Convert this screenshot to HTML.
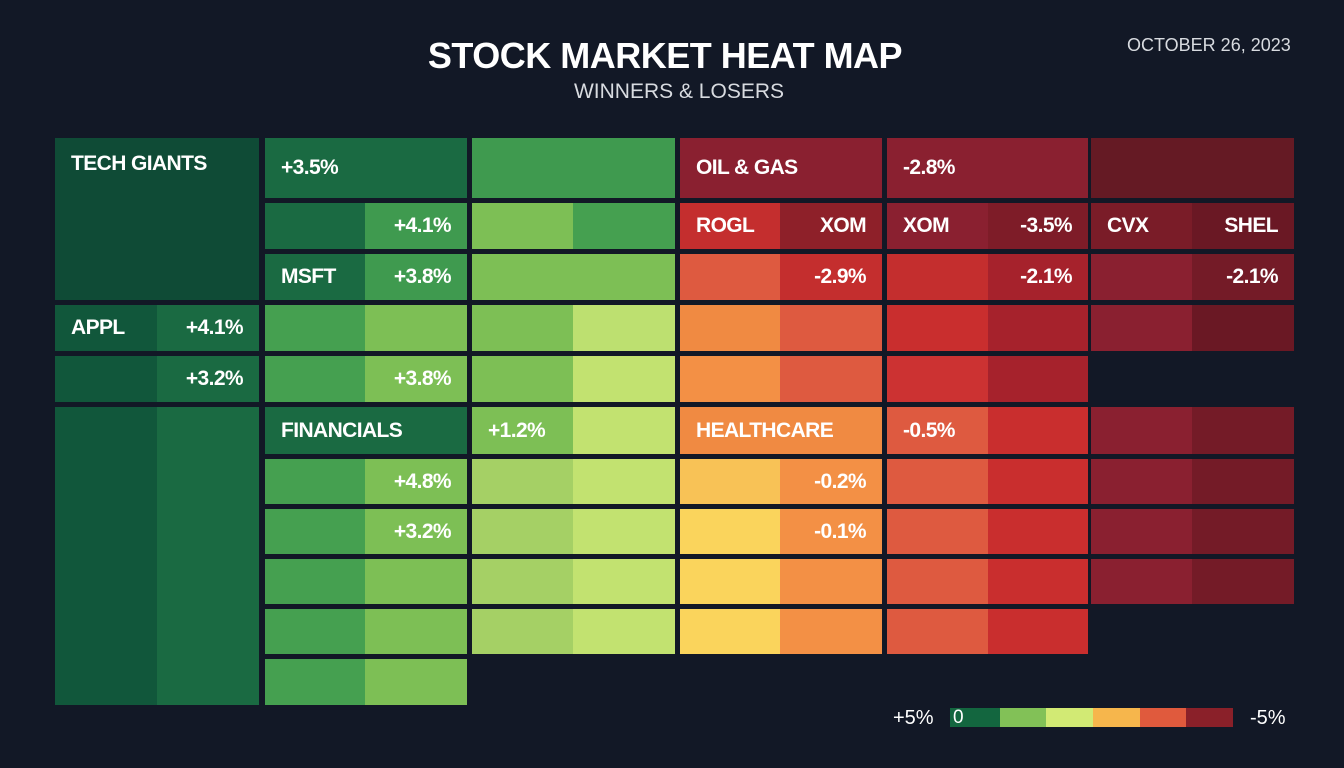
<!DOCTYPE html>
<html><head><meta charset="utf-8"><style>
body{margin:0;width:1344px;height:768px;background:#121826;position:relative;overflow:hidden;font-family:"Liberation Sans Narrow","Liberation Sans",sans-serif;color:#fff}
.c{position:absolute;box-sizing:border-box;font-size:21px;font-weight:bold;display:flex;align-items:center;padding:0 16px;letter-spacing:-0.6px}
.r{justify-content:flex-end}
.t{position:absolute;white-space:nowrap}
</style></head><body>
<div class="t" style="left:0;width:1330px;text-align:center;top:35px;font-size:36px;font-weight:bold;letter-spacing:-0.5px;font-family:'Liberation Sans',sans-serif">STOCK MARKET HEAT MAP</div>
<div class="t" style="left:0;width:1358px;text-align:center;top:80px;font-size:21px;color:#d8dbe0;font-family:'Liberation Sans',sans-serif">WINNERS &amp; LOSERS</div>
<div class="t" style="left:1127px;top:35px;font-size:18px;color:#d8dbe0;font-family:'Liberation Sans',sans-serif">OCTOBER 26, 2023</div>

<!-- group 0 -->
<div class="c" style="left:55px;top:138px;width:204px;height:162px;background:#0f4b36;align-items:flex-start;padding-top:14px">TECH GIANTS</div>
<div class="c" style="left:55px;top:305px;width:102px;height:46px;background:#11573b">APPL</div>
<div class="c r" style="left:157px;top:305px;width:102px;height:46px;background:#1a6a42">+4.1%</div>
<div class="c" style="left:55px;top:356px;width:102px;height:46px;background:#11573b"></div>
<div class="c r" style="left:157px;top:356px;width:102px;height:46px;background:#1a6a42">+3.2%</div>
<div class="c" style="left:55px;top:407px;width:102px;height:298px;background:#11573b"></div>
<div class="c" style="left:157px;top:407px;width:102px;height:298px;background:#1a6a42"></div>

<!-- group 1 -->
<div class="c" style="left:265px;top:138px;width:202px;height:60px;background:#1a6a42">+3.5%</div>
<div class="c" style="left:265px;top:203px;width:100px;height:46px;background:#1a6a42"></div>
<div class="c r" style="left:365px;top:203px;width:102px;height:46px;background:#3f9a4f">+4.1%</div>
<div class="c" style="left:265px;top:254px;width:100px;height:46px;background:#1a6a42">MSFT</div>
<div class="c r" style="left:365px;top:254px;width:102px;height:46px;background:#3f9a4f">+3.8%</div>
<div class="c" style="left:265px;top:305px;width:100px;height:46px;background:#45a050"></div>
<div class="c" style="left:365px;top:305px;width:102px;height:46px;background:#7dbf55"></div>
<div class="c" style="left:265px;top:356px;width:100px;height:46px;background:#45a050"></div>
<div class="c r" style="left:365px;top:356px;width:102px;height:46px;background:#7dbf55">+3.8%</div>
<div class="c" style="left:265px;top:407px;width:202px;height:47px;background:#1a6a42">FINANCIALS</div>
<div class="c" style="left:265px;top:459px;width:100px;height:45px;background:#45a050"></div>
<div class="c r" style="left:365px;top:459px;width:102px;height:45px;background:#7dbf55">+4.8%</div>
<div class="c" style="left:265px;top:509px;width:100px;height:45px;background:#45a050"></div>
<div class="c r" style="left:365px;top:509px;width:102px;height:45px;background:#7dbf55">+3.2%</div>
<div class="c" style="left:265px;top:559px;width:100px;height:45px;background:#45a050"></div>
<div class="c" style="left:365px;top:559px;width:102px;height:45px;background:#7dbf55"></div>
<div class="c" style="left:265px;top:609px;width:100px;height:45px;background:#45a050"></div>
<div class="c" style="left:365px;top:609px;width:102px;height:45px;background:#7dbf55"></div>
<div class="c" style="left:265px;top:659px;width:100px;height:46px;background:#45a050"></div>
<div class="c" style="left:365px;top:659px;width:102px;height:46px;background:#7dbf55"></div>

<!-- group 2 -->
<div class="c" style="left:472px;top:138px;width:203px;height:60px;background:#3f9a4f"></div>
<div class="c" style="left:472px;top:203px;width:101px;height:46px;background:#7dbf55"></div>
<div class="c" style="left:573px;top:203px;width:102px;height:46px;background:#45a050"></div>
<div class="c" style="left:472px;top:254px;width:203px;height:46px;background:#7dbf55"></div>
<div class="c" style="left:472px;top:305px;width:101px;height:46px;background:#7dbf55"></div>
<div class="c" style="left:573px;top:305px;width:102px;height:46px;background:#bde070"></div>
<div class="c" style="left:472px;top:356px;width:101px;height:46px;background:#7dbf55"></div>
<div class="c" style="left:573px;top:356px;width:102px;height:46px;background:#c2e270"></div>
<div class="c" style="left:472px;top:407px;width:101px;height:47px;background:#7dbf55">+1.2%</div>
<div class="c" style="left:573px;top:407px;width:102px;height:47px;background:#c2e270"></div>
<div class="c" style="left:472px;top:459px;width:101px;height:195px;background:#a5d065"></div>
<div class="c" style="left:573px;top:459px;width:102px;height:195px;background:#c2e270"></div>
<div style="position:absolute;left:472px;top:504px;width:203px;height:5px;background:#121826"></div>
<div style="position:absolute;left:472px;top:554px;width:203px;height:5px;background:#121826"></div>
<div style="position:absolute;left:472px;top:604px;width:203px;height:5px;background:#121826"></div>

<!-- group 3 -->
<div class="c" style="left:680px;top:138px;width:202px;height:60px;background:#8a2030">OIL &amp; GAS</div>
<div class="c" style="left:680px;top:203px;width:100px;height:46px;background:#c42e2e">ROGL</div>
<div class="c r" style="left:780px;top:203px;width:102px;height:46px;background:#8e2029">XOM</div>
<div class="c" style="left:680px;top:254px;width:100px;height:46px;background:#de5a40"></div>
<div class="c r" style="left:780px;top:254px;width:102px;height:46px;background:#c42e2e">-2.9%</div>
<div class="c" style="left:680px;top:305px;width:100px;height:46px;background:#f08a42"></div>
<div class="c" style="left:780px;top:305px;width:102px;height:46px;background:#de5a40"></div>
<div class="c" style="left:680px;top:356px;width:100px;height:46px;background:#f39045"></div>
<div class="c" style="left:780px;top:356px;width:102px;height:46px;background:#de5a40"></div>
<div class="c" style="left:680px;top:407px;width:202px;height:47px;background:#f08a42">HEALTHCARE</div>
<div class="c" style="left:680px;top:459px;width:100px;height:45px;background:#f8c256"></div>
<div class="c r" style="left:780px;top:459px;width:102px;height:45px;background:#f39045">-0.2%</div>
<div class="c" style="left:680px;top:509px;width:100px;height:45px;background:#fad45c"></div>
<div class="c r" style="left:780px;top:509px;width:102px;height:45px;background:#f39045">-0.1%</div>
<div class="c" style="left:680px;top:559px;width:100px;height:45px;background:#fad45c"></div>
<div class="c" style="left:780px;top:559px;width:102px;height:45px;background:#f39045"></div>
<div class="c" style="left:680px;top:609px;width:100px;height:45px;background:#fad45c"></div>
<div class="c" style="left:780px;top:609px;width:102px;height:45px;background:#f39045"></div>

<!-- group 4 -->
<div class="c" style="left:887px;top:138px;width:201px;height:60px;background:#8a2030">-2.8%</div>
<div class="c" style="left:887px;top:203px;width:101px;height:46px;background:#8a2030">XOM</div>
<div class="c r" style="left:988px;top:203px;width:100px;height:46px;background:#7e1c28">-3.5%</div>
<div class="c" style="left:887px;top:254px;width:101px;height:46px;background:#c42e2e"></div>
<div class="c r" style="left:988px;top:254px;width:100px;height:46px;background:#a6222c">-2.1%</div>
<div class="c" style="left:887px;top:305px;width:101px;height:46px;background:#c92e2e"></div>
<div class="c" style="left:988px;top:305px;width:100px;height:46px;background:#a6222c"></div>
<div class="c" style="left:887px;top:356px;width:101px;height:46px;background:#cc3232"></div>
<div class="c" style="left:988px;top:356px;width:100px;height:46px;background:#a6222c"></div>
<div class="c" style="left:887px;top:407px;width:101px;height:47px;background:#de5a40">-0.5%</div>
<div class="c" style="left:988px;top:407px;width:100px;height:47px;background:#c92e2e"></div>
<div class="c" style="left:887px;top:459px;width:101px;height:195px;background:#de5a40"></div>
<div class="c" style="left:988px;top:459px;width:100px;height:195px;background:#c92e2e"></div>
<div style="position:absolute;left:887px;top:504px;width:201px;height:5px;background:#121826"></div>
<div style="position:absolute;left:887px;top:554px;width:201px;height:5px;background:#121826"></div>
<div style="position:absolute;left:887px;top:604px;width:201px;height:5px;background:#121826"></div>

<!-- group 5 -->
<div class="c" style="left:1091px;top:138px;width:203px;height:60px;background:#651a24"></div>
<div class="c" style="left:1091px;top:203px;width:101px;height:46px;background:#7a1c28">CVX</div>
<div class="c r" style="left:1192px;top:203px;width:102px;height:46px;background:#6a1824">SHEL</div>
<div class="c" style="left:1091px;top:254px;width:101px;height:46px;background:#8a2030"></div>
<div class="c r" style="left:1192px;top:254px;width:102px;height:46px;background:#741b27">-2.1%</div>
<div class="c" style="left:1091px;top:305px;width:101px;height:46px;background:#8a2030"></div>
<div class="c" style="left:1192px;top:305px;width:102px;height:46px;background:#6a1824"></div>
<div class="c" style="left:1091px;top:407px;width:101px;height:197px;background:#8a2030"></div>
<div class="c" style="left:1192px;top:407px;width:102px;height:197px;background:#741b27"></div>
<div style="position:absolute;left:1091px;top:454px;width:203px;height:5px;background:#121826"></div>
<div style="position:absolute;left:1091px;top:504px;width:203px;height:5px;background:#121826"></div>
<div style="position:absolute;left:1091px;top:554px;width:203px;height:5px;background:#121826"></div>

<!-- legend -->
<div class="t" style="left:893px;top:707px;font-size:20px">+5%</div>
<div style="position:absolute;left:950px;top:708px;height:19px;width:283px;display:flex">
<div style="flex:1;background:#13663f;color:#fff;font-size:19px;line-height:19px;padding-left:3px">0</div>
<div style="flex:1;background:#82c157"></div><div style="flex:1;background:#d2ea74"></div>
<div style="flex:1;background:#f6b64c"></div><div style="flex:1;background:#e05a3d"></div>
<div style="flex:1;background:#8a2029"></div></div>
<div class="t" style="left:1250px;top:707px;font-size:20px">-5%</div>
</body></html>
